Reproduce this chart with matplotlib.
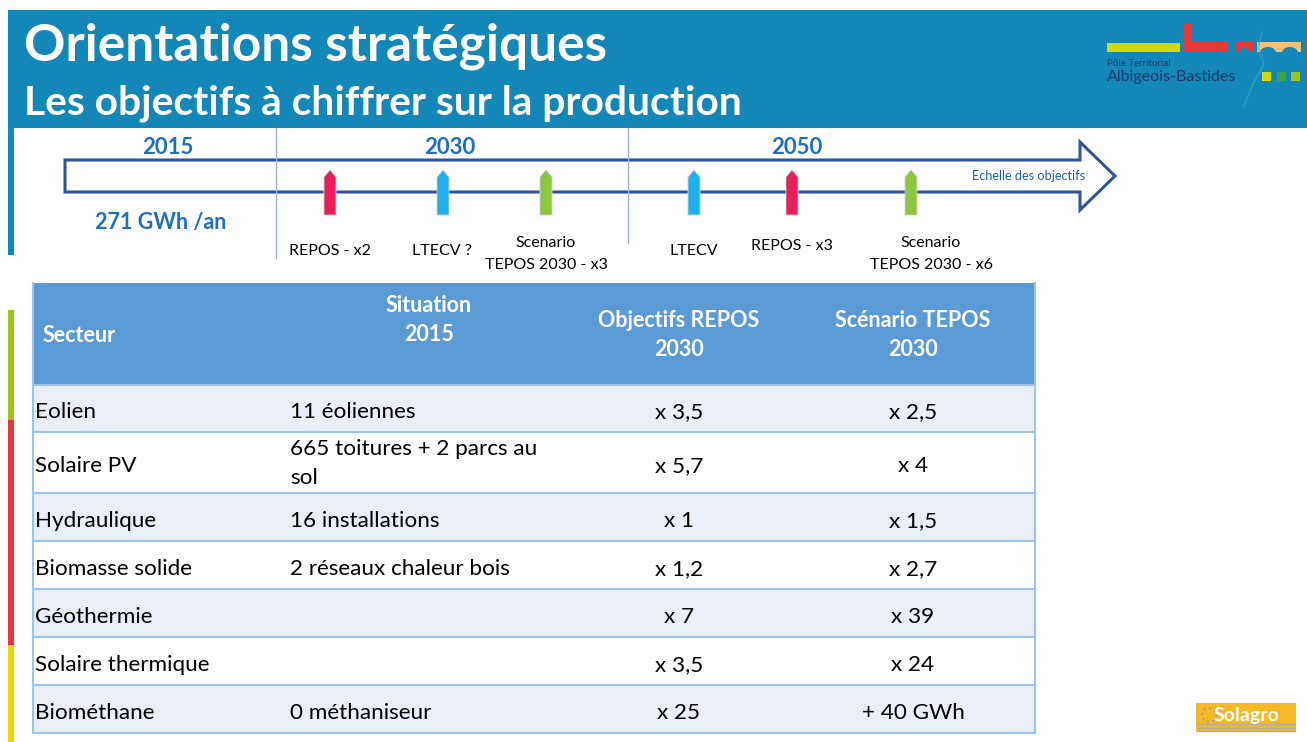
import matplotlib
matplotlib.use("Agg")
import matplotlib.pyplot as plt
from matplotlib.patches import Rectangle, Polygon, Ellipse, Circle

plt.rcParams['font.family'] = ['Lato', 'DejaVu Sans']

# --- contenu de la diapo ---
titre = "Orientations stratégiques"
sous_titre = "Les objectifs à chiffrer sur la production"

annees = ["2015", "2030", "2050"]
production_2015 = "271 GWh /an"

jalons = ["REPOS - x2", "LTECV ?", "Scenario\nTEPOS 2030 - x3",
          "LTECV", "REPOS - x3", "Scenario\nTEPOS 2030 - x6"]
jalons_type = ["REPOS", "LTECV", "TEPOS", "LTECV", "REPOS", "TEPOS"]

entetes = ["Secteur", "Situation\n2015", "Objectifs REPOS\n2030", "Scénario TEPOS\n2030"]
secteurs = ["Eolien", "Solaire PV", "Hydraulique", "Biomasse solide",
            "Géothermie", "Solaire thermique", "Biométhane"]
situation_2015 = ["11 éoliennes", "665 toitures + 2 parcs au\nsol", "16 installations",
                  "2 réseaux chaleur bois", "", "", "0 méthaniseur"]
objectifs_repos = ["x 3,5", "x 5,7", "x 1", "x 1,2", "x 7", "x 3,5", "x 25"]
scenario_tepos = ["x 2,5", "x 4", "x 1,5", "x 2,7", "x 39", "x 24", "+ 40 GWh"]

# --- mise en page (pixels) ---
W, H = 1307, 742
BAND = '#1287B8'
BLEU_TXT = '#1F6FBF'
couleurs_jalon = {"REPOS": '#EC1C5B', "LTECV": '#1DB1EC', "TEPOS": '#8DC63F'}

annees_x = [168, 450, 797]
jalons_x = [330, 443, 546, 694, 792, 911]
labels_x = [330, 442, 546, 694, 792, 931]
labels_y = [251, 251, 254, 251, 246, 254]
clip_label = [True, True, False, True, False, False]

fig = plt.figure(figsize=(W / 100, H / 100), dpi=100)
ax = fig.add_axes([0, 0, 1, 1])
ax.set_xlim(0, W)
ax.set_ylim(H, 0)
ax.axis('off')

# bandeau titre
ax.add_patch(Rectangle((8, 10), W - 8, 118, color=BAND, lw=0))
ax.add_patch(Rectangle((8, 128), 6, 127, color=BAND, lw=0))
ax.text(24, 46, titre, color='white', fontsize=37, fontweight='bold', va='center')
ax.text(24, 103, sous_titre, color='white', fontsize=29.3, fontweight='bold', va='center')

# logo Albigeois-Bastides (approx.)
NAVY = '#1A3A6A'
ax.plot([1262, 1258, 1264, 1252, 1244], [32, 48, 64, 86, 106], color='#3FA4CF', lw=1.5, alpha=0.5)
ax.add_patch(Rectangle((1107, 43), 73, 9, color='#D4D800', lw=0))
ax.add_patch(Rectangle((1183, 24), 9, 28, color='#E83838', lw=0))
ax.add_patch(Rectangle((1183, 42), 45, 10, color='#E83838', lw=0))
ax.add_patch(Rectangle((1235, 42), 18, 10, color='#E83838', lw=0))
ax.add_patch(Ellipse((1244, 53), 12, 10, color=BAND, lw=0))
ax.add_patch(Rectangle((1257, 42), 44, 10, color='#F2C078', lw=0))
for cx in (1268, 1290):
    ax.add_patch(Ellipse((cx, 53), 16, 12, color=BAND, lw=0))
ax.text(1107, 63, "Pôle Territorial", color=NAVY, fontsize=7, va='center')
ax.text(1107, 77, "Albigeois-Bastides", color=NAVY, fontsize=11.5, va='center')
for sx, c in zip((1262, 1277, 1291), ('#D4D800', '#3AA548', '#9DC21B')):
    ax.add_patch(Rectangle((sx, 72), 9, 9, color=c, lw=0))

# séparateurs de périodes
ax.plot([276, 276], [128, 258], color='#9EB3D8', lw=1)
ax.plot([628, 628], [128, 243], color='#9EB3D8', lw=1)

# flèche "Echelle des objectifs"
fleche = Polygon([(65, 160), (1080, 160), (1080, 142), (1115, 176),
                  (1080, 210), (1080, 192), (65, 192)], closed=True,
                 facecolor='white', edgecolor='#2F5597', lw=2.2, joinstyle='miter')
ax.add_patch(fleche)
ax.text(1029, 176, "Echelle des objectifs", color='#1F5FA8', fontsize=9.2, ha='center', va='center')

for x, a in zip(annees_x, annees):
    ax.text(x, 147, a, color=BLEU_TXT, fontsize=16, fontweight='bold', ha='center', va='center')
ax.text(161, 223, production_2015, color=BLEU_TXT, fontsize=15.5, fontweight='bold', ha='center', va='center')

# étiquettes coupées en bas comme sur la diapo
clip = Rectangle((0, 0), W, 255, transform=ax.transData, visible=False)
ax.add_patch(clip)
for x, lx, ly, lab, t, cl in zip(jalons_x, labels_x, labels_y, jalons, jalons_type, clip_label):
    ax.add_patch(Polygon([(x - 6, 215), (x - 6, 177), (x, 170), (x + 6, 177), (x + 6, 215)],
                         closed=True, facecolor=couleurs_jalon[t], edgecolor='#D0D0D0', lw=0.6))
    txt = ax.text(lx, ly, lab, fontsize=11.5, ha='center', va='center', linespacing=1.65)
    if cl:
        txt.set_clip_path(clip)
        txt.set_clip_on(True)

# tableau
x0, x1 = 33, 1035
lignes = [385, 432, 493, 541, 589, 637, 685, 733]
ax.add_patch(Rectangle((x0, 283), x1 - x0, lignes[0] - 283, color='#5B9BD5', lw=0))
for i in range(len(secteurs)):
    fond = '#E9EEF7' if i % 2 == 0 else 'white'
    ax.add_patch(Rectangle((x0, lignes[i]), x1 - x0, lignes[i + 1] - lignes[i], facecolor=fond, lw=0))
for y in lignes:
    ax.plot([x0, x1], [y, y], color='#9DC3E6', lw=1.5)
ax.plot([x0, x0], [283, lignes[-1]], color='#9DC3E6', lw=1.5)
ax.plot([x1, x1], [283, lignes[-1]], color='#9DC3E6', lw=1.5)

hdr = dict(color='white', fontsize=15.5, fontweight='bold', va='center', linespacing=1.45)
ax.text(43, 335, entetes[0], ha='left', **hdr)
ax.text(429, 320, entetes[1], ha='center', **hdr)
ax.text(679, 335, entetes[2], ha='center', **hdr)
ax.text(913, 335, entetes[3], ha='center', **hdr)

for i in range(len(secteurs)):
    yc = (lignes[i] + lignes[i + 1]) / 2 + 2
    ax.text(35, yc, secteurs[i], fontsize=16.2, va='center_baseline', ha='left')
    if "\n" in situation_2015[i]:
        ax.text(290, yc - 1, situation_2015[i], fontsize=16.2, va='center', ha='left', linespacing=1.6)
    else:
        ax.text(290, yc, situation_2015[i], fontsize=16.2, va='center_baseline', ha='left')
    ax.text(679, yc, objectifs_repos[i], fontsize=16.2, va='center_baseline', ha='center')
    ax.text(913, yc, scenario_tepos[i], fontsize=16.2, va='center_baseline', ha='center')

# bandes de couleur à gauche
ax.add_patch(Rectangle((8, 310), 6, 110, color='#9DC21B', lw=0))
ax.add_patch(Rectangle((8, 420), 6, 225, color='#E8353C', lw=0))
ax.add_patch(Rectangle((8, 645), 6, 97, color='#E2DC00', lw=0))

# logo Solagro (approx.)
ax.add_patch(Rectangle((1196, 703), 100, 28, color='#F7B825', lw=0))
for yy in (724, 727.5, 731):
    ax.plot([1197, 1295], [yy, yy], color='#B5AC9C', lw=1)
ax.add_patch(Circle((1209, 715), 7, facecolor='none', edgecolor='#A9A294', lw=1.5, ls=':'))
ax.text(1214, 715, "Solagro", color='white', fontsize=14, fontweight='bold', va='center')

fig.savefig("out.png", dpi=100)
